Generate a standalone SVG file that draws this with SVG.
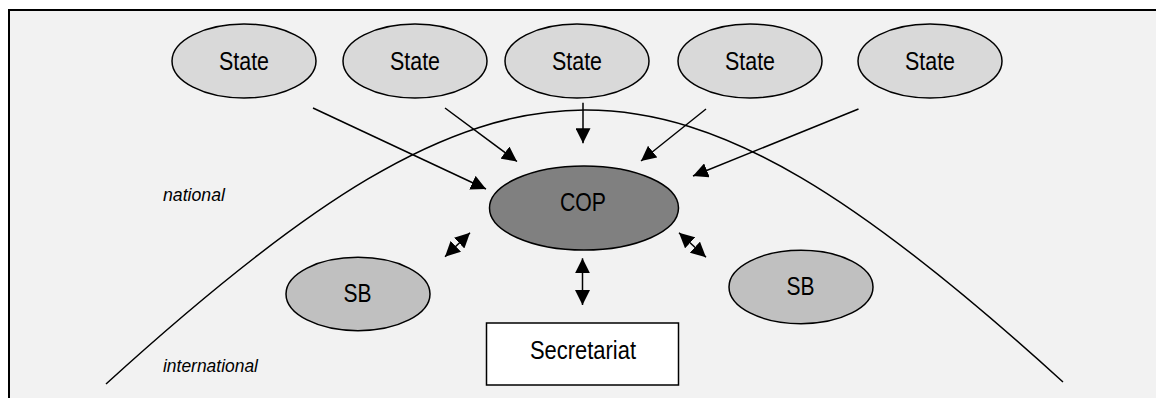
<svg xmlns="http://www.w3.org/2000/svg" width="1156" height="398" viewBox="0 0 1156 398">
  <style>
    .lbl { font-family: "Liberation Sans", Arial, sans-serif; font-size: 25px; fill: #000; text-anchor: middle; }
    .zone { font-family: "Liberation Sans", Arial, sans-serif; font-size: 17.5px; font-style: italic; fill: #000; }
    .state { fill: #d9d9d9; stroke: #000; stroke-width: 1.5; }
    .sb { fill: #c0c0c0; stroke: #000; stroke-width: 1.5; }
    .cop { fill: #808080; stroke: #000; stroke-width: 1.5; }
    .conn { stroke: #000; stroke-width: 1.5; fill: none; }
  </style>
  <defs>
    <marker id="ah" markerUnits="userSpaceOnUse" markerWidth="15" markerHeight="15" viewBox="0 0 15 15" refX="15" refY="7.5" orient="auto-start-reverse">
      <path d="M0,0 L15,7.5 L0,15 Z" fill="#000"/>
    </marker>
  </defs>
  <rect x="0" y="0" width="1156" height="398" fill="#ffffff"/>
  <rect x="9" y="10" width="1150" height="392" fill="#f2f2f2" stroke="#000" stroke-width="2"/>

  <g id="boundary">
    <path class="conn" d="M106,384 C506,20 663,18 1063,382"/>
  </g>

  <g id="zone-labels">
    <text class="zone" x="163" y="200.7" textLength="62" lengthAdjust="spacingAndGlyphs">national</text>
    <text class="zone" x="163" y="372.3" textLength="95" lengthAdjust="spacingAndGlyphs">international</text>
  </g>

  <g id="state1"><ellipse class="state" cx="244" cy="61" rx="72" ry="37"/><text class="lbl" x="244" y="70" textLength="50" lengthAdjust="spacingAndGlyphs">State</text></g>
  <g id="state2"><ellipse class="state" cx="415" cy="61" rx="72" ry="37"/><text class="lbl" x="415" y="70" textLength="50" lengthAdjust="spacingAndGlyphs">State</text></g>
  <g id="state3"><ellipse class="state" cx="577" cy="61" rx="72" ry="37"/><text class="lbl" x="577" y="70" textLength="50" lengthAdjust="spacingAndGlyphs">State</text></g>
  <g id="state4"><ellipse class="state" cx="750" cy="61" rx="72" ry="37"/><text class="lbl" x="750" y="70" textLength="50" lengthAdjust="spacingAndGlyphs">State</text></g>
  <g id="state5"><ellipse class="state" cx="930" cy="61" rx="72" ry="37"/><text class="lbl" x="930" y="70" textLength="50" lengthAdjust="spacingAndGlyphs">State</text></g>

  <g id="cop"><ellipse class="cop" cx="584" cy="208" rx="94.5" ry="42"/><text class="lbl" x="583" y="210.7" textLength="46" lengthAdjust="spacingAndGlyphs">COP</text></g>

  <g id="sb-left"><ellipse class="sb" cx="358" cy="294" rx="72" ry="36.7"/><text class="lbl" x="357.5" y="301.7" textLength="28" lengthAdjust="spacingAndGlyphs">SB</text></g>
  <g id="sb-right"><ellipse class="sb" cx="801" cy="287" rx="72" ry="36.7"/><text class="lbl" x="800.5" y="294.5" textLength="28" lengthAdjust="spacingAndGlyphs">SB</text></g>

  <g id="secretariat"><rect x="486.5" y="323" width="192" height="62" fill="#ffffff" stroke="#000" stroke-width="1.5"/><text class="lbl" x="583" y="359" textLength="106" lengthAdjust="spacingAndGlyphs">Secretariat</text></g>

  <g id="connectors">
    <line class="conn" x1="313" y1="108" x2="486" y2="189" marker-end="url(#ah)"/>
    <line class="conn" x1="445" y1="108" x2="517" y2="161.5" marker-end="url(#ah)"/>
    <line class="conn" x1="583" y1="102.7" x2="583" y2="143.3" marker-end="url(#ah)"/>
    <line class="conn" x1="706" y1="109" x2="641" y2="161" marker-end="url(#ah)"/>
    <line class="conn" x1="858.5" y1="109" x2="693" y2="176" marker-end="url(#ah)"/>
    <line class="conn" x1="445" y1="256.7" x2="470" y2="232.7" marker-start="url(#ah)" marker-end="url(#ah)"/>
    <line class="conn" x1="679" y1="232.7" x2="706" y2="257.3" marker-start="url(#ah)" marker-end="url(#ah)"/>
    <line class="conn" x1="582.5" y1="258.3" x2="582.5" y2="305" marker-start="url(#ah)" marker-end="url(#ah)"/>
  </g>
</svg>
